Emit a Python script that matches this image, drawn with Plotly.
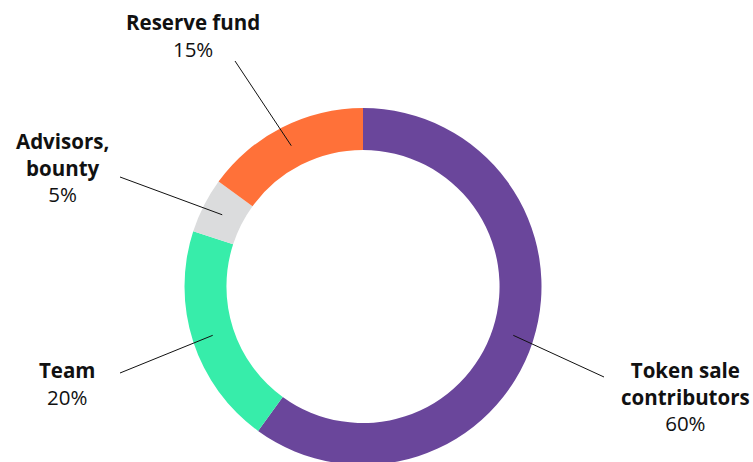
import math
import plotly.graph_objects as go

labels = ["Token sale contributors", "Team", "Advisors, bounty", "Reserve fund"]
label_html = ["<b>Token sale<br>contributors</b>", "<b>Team</b>", "<b>Advisors,<br>bounty</b>", "<b>Reserve fund</b>"]
values = [60, 20, 5, 15]
colors = ["#6A469B", "#37EDAA", "#DBDCDD", "#FF7139"]

W, H = 753, 472  # figure slightly taller than the view; bottom of ring is cut off as in the original
# label anchor (pixel, center of text block) and leader outer end (pixel)
label_pos = [(685, 396), (67, 383), (63, 167), (193, 35)]
leader_out = [(604, 377), (120, 373), (120, 177), (235, 61)]

cx, cy, R = 363, 286.5, 178.5
hole = 0.765

fig = go.Figure(go.Pie(
    labels=labels, values=values, sort=False, direction="clockwise", rotation=0,
    hole=hole, marker=dict(colors=colors, line=dict(width=0)),
    textinfo="none", hoverinfo="label+percent", showlegend=False,
    domain=dict(x=[(cx - R) / W, (cx + R) / W], y=[max(0, (H - cy - R) / H), (H - cy + R) / H]),
))

total = sum(values)
cum = 0
shapes, annotations = [], []
rmid = 158
for i, v in enumerate(values):
    mid = (cum + v / 2) / total * 360
    cum += v
    th = math.radians(mid)
    ix, iy = cx + rmid * math.sin(th), cy - rmid * math.cos(th)
    ox, oy = leader_out[i]
    shapes.append(dict(type="line", xref="paper", yref="paper",
                       x0=ix / W, y0=1 - iy / H, x1=ox / W, y1=1 - oy / H,
                       line=dict(color="#111111", width=1)))
    lx, ly = label_pos[i]
    annotations.append(dict(
        x=lx / W, y=1 - ly / H, xref="paper", yref="paper", showarrow=False,
        xanchor="center", yanchor="middle", align="center",
        text=f"{label_html[i]}<br>{round(v / total * 100)}%",
        font=dict(family="Open Sans", size=20.5, color="#111111"),
    ))

fig.update_layout(
    width=W, height=H, margin=dict(l=0, r=0, t=0, b=0),
    paper_bgcolor="white", plot_bgcolor="white",
    shapes=shapes, annotations=annotations,
)
fig.write_html("out.html", config={"displayModeBar": False},
               post_script="document.body.style.margin='0';document.body.style.overflow='hidden';")
